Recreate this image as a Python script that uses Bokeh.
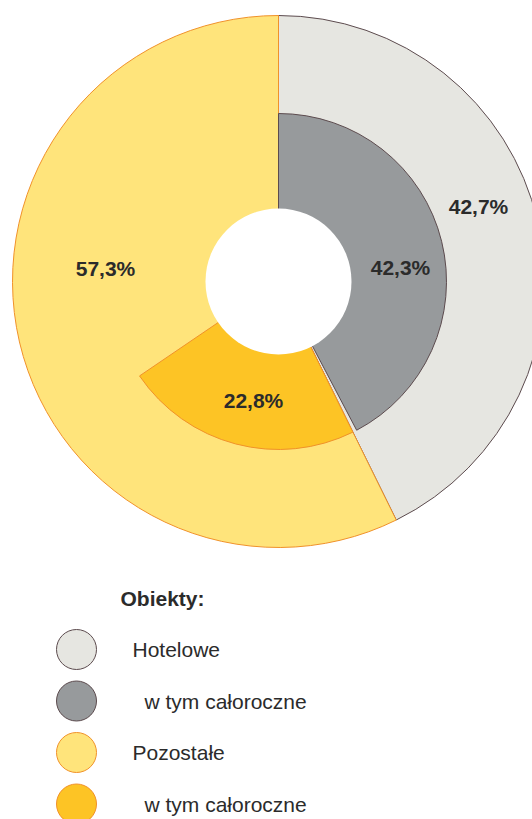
import numpy as np
from bokeh.plotting import figure
from bokeh.models import ColumnDataSource, Range1d
from bokeh.embed import file_html
from bokeh.resources import INLINE
from bokeh.core.properties import value

# ---- data ----
outer_labels = ["Hotelowe", "Pozostałe"]
outer_values = [42.7, 57.3]
inner_labels = ["w tym całoroczne", "w tym całoroczne"]
inner_values = [42.3, 22.8]
legend_title = "Obiekty:"

# ---- styles ----
outer_fill = ["#E6E6E1", "#FFE47B"]
inner_fill = ["#979A9C", "#FDC425"]
edge_color = ["#5C4B4E", "#F0912A"]
text_color = "#2B2B2B"
FONT = "Liberation Sans"

W, H = 532, 819


def X(rx):
    return rx


def Y(ry):
    return H - ry


cx, cy = X(278), Y(281)
R_out, R_in, R_hole = 266, 168, 73

ov = np.array(outer_values) / 100.0
iv = np.array(inner_values) / 100.0
o_start_frac = np.concatenate([[0], np.cumsum(ov)[:-1]])
o_end_frac = o_start_frac + ov
i_start_frac = o_start_frac
i_end_frac = i_start_frac + iv


def ang(f):
    return np.pi / 2 - 2 * np.pi * f


p = figure(width=W, height=H, x_range=Range1d(0, W), y_range=Range1d(0, H),
           toolbar_location=None, output_backend="svg", min_border=0,
           x_axis_location=None, y_axis_location=None)
p.grid.visible = False
p.outline_line_color = None
p.background_fill_color = "white"

outer_src = ColumnDataSource(dict(start=ang(o_start_frac), end=ang(o_end_frac),
                                  fill=outer_fill, line=edge_color))
p.wedge(x=cx, y=cy, radius=R_out, start_angle="start", end_angle="end",
        direction="clock", fill_color="fill", line_color="line", line_width=1,
        source=outer_src)

inner_src = ColumnDataSource(dict(start=ang(i_start_frac), end=ang(i_end_frac),
                                  fill=inner_fill, line=edge_color))
p.wedge(x=cx, y=cy, radius=R_in, start_angle="start", end_angle="end",
        direction="clock", fill_color="fill", line_color="line", line_width=1,
        source=inner_src)

p.circle(x=[cx], y=[cy], radius=R_hole, fill_color="white", line_color=None)


def fmt(v):
    return f"{v:.1f}".replace(".", ",") + "%"


# label placements (layout)
lab_pos_outer = [(478, 206), (105, 268)]
lab_pos_inner = [(400, 267), (253, 400)]
lab_txt = [fmt(v) for v in outer_values] + [fmt(v) for v in inner_values]
lab_xy = lab_pos_outer + lab_pos_inner
p.text(x=[X(a) for a, b in lab_xy], y=[Y(b) for a, b in lab_xy], text=lab_txt,
       text_align="center", text_baseline="middle", text_font=value(FONT),
       text_font_style="bold", text_font_size="21px", text_color=text_color)

# legend
p.text(x=[X(120)], y=[Y(598)], text=[legend_title], text_align="left",
       text_baseline="middle", text_font=value(FONT), text_font_style="bold",
       text_font_size="21px", text_color=text_color)

leg_names = [outer_labels[0], inner_labels[0], outer_labels[1], inner_labels[1]]
leg_fill = [outer_fill[0], inner_fill[0], outer_fill[1], inner_fill[1]]
leg_line = [edge_color[0], edge_color[0], edge_color[1], edge_color[1]]
leg_y = [649, 700.5, 752, 803.5]
leg_tx = [132, 144, 132, 144]
p.circle(x=[X(76)] * 4, y=[Y(v) for v in leg_y], radius=20, fill_color=leg_fill,
         line_color=leg_line, line_width=1)
p.text(x=[X(v) for v in leg_tx], y=[Y(v) for v in leg_y], text=leg_names,
       text_align="left", text_baseline="middle", text_font=value(FONT),
       text_font_size="21px", text_color=text_color)

open("out.html", "w").write(file_html(p, INLINE))
